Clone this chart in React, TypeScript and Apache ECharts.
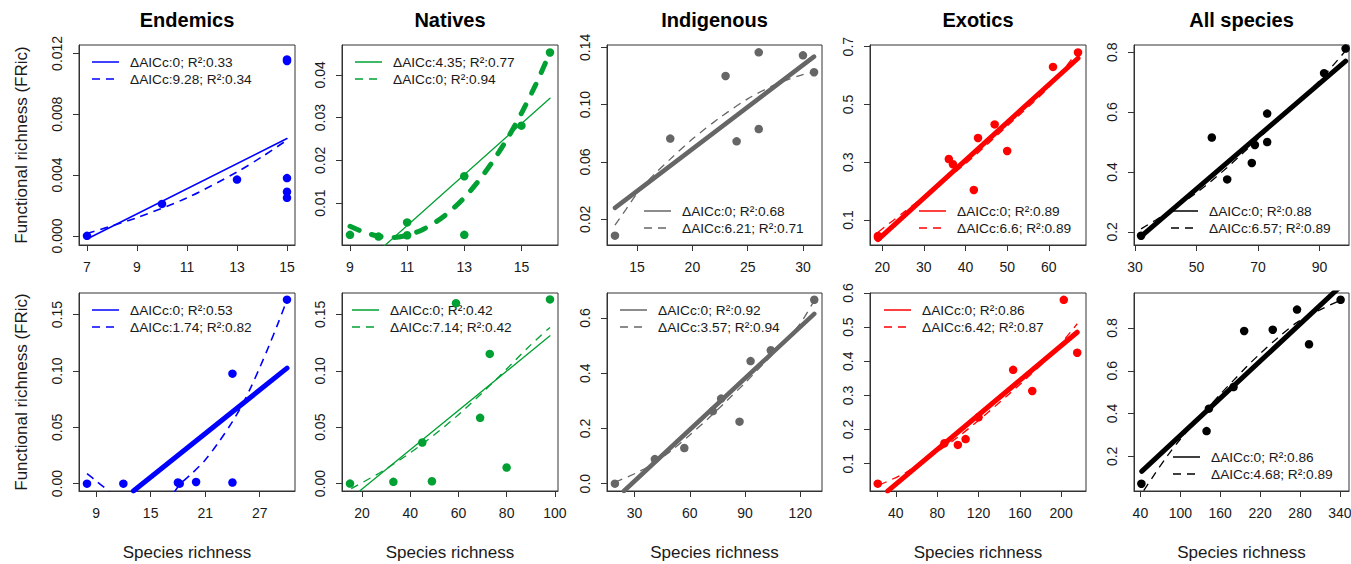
import React, { useEffect, useRef } from 'react';
import * as echarts from 'echarts';

const FONT = '"Liberation Sans", Arial, Helvetica, sans-serif';

// ---------- Titles / labels ----------
const panelTitles = ['Endemics', 'Natives', 'Indigenous', 'Exotics', 'All species'];
const yAxisTitle = 'Functional richness (FRic)';
const xAxisTitle = 'Species richness';

// ---------- Row 1 data ----------
const endemicsTopX = [7, 10, 13, 15, 15, 15, 15, 15];
const endemicsTopY = [0.0, 0.0021, 0.0037, 0.0116, 0.0115, 0.0038, 0.0029, 0.0025];
const endemicsTopSolid = [[7, -0.0002], [15, 0.0064]];
const endemicsTopDashed = [[[7, 0.00015], [9, 0.0012], [11, 0.0025], [13, 0.0042], [14, 0.0052], [15, 0.0063]]];

const nativesTopX = [9, 10, 11, 11, 13, 13, 15, 16];
const nativesTopY = [0.0026, 0.0022, 0.0055, 0.0025, 0.0163, 0.0026, 0.0281, 0.0452];
const nativesTopSolid = [[10.2, 0.0], [16, 0.0345]];
const nativesTopDashed = [[[9, 0.0046], [9.5, 0.0032], [10, 0.0023], [10.5, 0.002], [11, 0.0025], [11.5, 0.0037], [12, 0.0056], [12.5, 0.0081], [13, 0.0113], [13.5, 0.0152], [14, 0.0198], [14.5, 0.025], [15, 0.031], [15.5, 0.0377], [16, 0.0452]]];

const indigenousTopX = [13, 18, 23, 24, 26, 26, 30, 31];
const indigenousTopY = [0.0086, 0.0763, 0.12, 0.0744, 0.1365, 0.083, 0.1344, 0.1226];
const indigenousTopSolid = [[13, 0.028], [31, 0.1335]];
const indigenousTopDashed = [[[13, 0.016], [14, 0.027], [15, 0.038], [16.5, 0.051], [18, 0.062], [20, 0.076], [22.5, 0.091], [25, 0.104], [27.5, 0.114], [30, 0.121], [31, 0.1225]]];

const exoticsTopX = [19, 19, 36, 37, 42, 43, 47, 50, 61, 67];
const exoticsTopY = [0.045, 0.04, 0.311, 0.293, 0.204, 0.384, 0.431, 0.339, 0.63, 0.68];
const exoticsTopSolid = [[19, 0.032], [67, 0.66]];
const exoticsTopDashed = [[[19, 0.058], [25, 0.125], [30, 0.18], [40, 0.295], [50, 0.425], [60, 0.56], [67, 0.685]]];

const allTopX = [32, 55, 60, 68, 69, 73, 73, 91.5, 98.5];
const allTopY = [0.187, 0.515, 0.375, 0.43, 0.49, 0.595, 0.5, 0.73, 0.812];
const allTopSolid = [[32, 0.185], [98.5, 0.77]];
const allTopDashed = [[[32, 0.21], [40, 0.26], [50, 0.33], [60, 0.415], [70, 0.51], [80, 0.605], [90, 0.705], [98.5, 0.805]]];

// ---------- Row 2 data ----------
const endemicsBotX = [8, 12, 18, 18.2, 20, 24, 24, 30];
const endemicsBotY = [0.0, 0.0, 0.001, 0.0, 0.0015, 0.0976, 0.001, 0.1633];
const endemicsBotSolid = [[13.1, -0.0065], [30, 0.1025]];
const endemicsBotDashed = [
  [[8, 0.0089], [9, 0.0025], [10, -0.004], [10.5, -0.0075]],
  [[17.6, -0.0075], [18.3, 0.0], [19.4, 0.008], [21, 0.021], [22.5, 0.037], [24, 0.055], [25, 0.069], [26, 0.085], [27, 0.103], [28, 0.122], [29, 0.142], [30, 0.163]],
];

const nativesBotX = [15, 33, 45, 49, 59, 69, 73, 80, 98];
const nativesBotY = [0.0, 0.0015, 0.0364, 0.002, 0.16, 0.0583, 0.115, 0.0142, 0.1633];
const nativesBotSolid = [[19, -0.0066], [98, 0.131]];
const nativesBotDashed = [[[15.5, -0.0045], [30, 0.013], [45, 0.035], [60, 0.061], [75, 0.091], [90, 0.123], [98, 0.1385]]];

const indigenousBotX = [19.3, 41, 57, 72.5, 77, 87, 93, 104, 127.6];
const indigenousBotY = [0.0, 0.089, 0.129, 0.263, 0.308, 0.2245, 0.444, 0.483, 0.666];
const indigenousBotSolid = [[24.2, -0.0266], [127.6, 0.615]];
const indigenousBotDashed = [[[19.3, 0.005], [30, 0.036], [40, 0.072], [50, 0.12], [60, 0.176], [70, 0.236], [80, 0.3], [90, 0.365], [100, 0.434], [110, 0.503], [120, 0.58], [127.6, 0.664]]];

const exoticsBotX = [22.5, 87, 100, 107.5, 120, 153.5, 172, 202.5, 215.5];
const exoticsBotY = [0.0415, 0.16, 0.155, 0.172, 0.236, 0.375, 0.313, 0.58, 0.425];
const exoticsBotSolid = [[32, 0.0195], [215.5, 0.485]];
const exoticsBotDashed = [[[24, 0.038], [50, 0.075], [100, 0.178], [150, 0.305], [190, 0.418], [215.5, 0.51]]];

const allBotX = [41.5, 139.5, 143, 180, 196, 239, 275.5, 293.5, 341];
const allBotY = [0.072, 0.318, 0.423, 0.524, 0.786, 0.792, 0.886, 0.724, 0.932];
const allBotSolid = [[42, 0.13], [341, 0.995]];
const allBotDashed = [[[45, 0.04], [60, 0.11], [80, 0.2], [100, 0.28], [120, 0.35], [140, 0.42], [160, 0.49], [180, 0.555], [200, 0.62], [220, 0.68], [245, 0.75], [275, 0.825], [310, 0.885], [341, 0.93]]];

// ---------- Axes ----------
const xTicks = [
  [7, 9, 11, 13, 15], [9, 11, 13, 15], [15, 20, 25, 30], [20, 30, 40, 50, 60], [30, 50, 70, 90],
  [9, 15, 21, 27], [20, 40, 60, 80, 100], [30, 60, 90, 120], [40, 80, 120, 160, 200], [40, 100, 160, 220, 280, 340],
];
const yTicks = [
  [0, 0.004, 0.008, 0.012], [0.01, 0.02, 0.03, 0.04], [0.02, 0.06, 0.1, 0.14], [0.1, 0.3, 0.5, 0.7], [0.2, 0.4, 0.6, 0.8],
  [0, 0.05, 0.1, 0.15], [0, 0.05, 0.1, 0.15], [0, 0.2, 0.4, 0.6], [0.1, 0.2, 0.3, 0.4, 0.5, 0.6], [0.2, 0.4, 0.6, 0.8],
];
const yDecimals = [3, 2, 2, 1, 1, 2, 2, 1, 1, 1];
const xLimits = [
  [6.68, 15.32], [8.72, 16.28], [12.28, 31.72], [17.08, 68.92], [29.7, 99.6],
  [7.12, 30.88], [11.68, 101.32], [15, 131.8], [15, 224], [30.4, 353.6],
];
const yLimits = [
  [-0.0006, 0.01255], [0.00023, 0.04695], [0.0021, 0.1416], [0.0135, 0.7058], [0.156, 0.824],
  [-0.0065, 0.1692], [-0.0066, 0.169], [-0.0266, 0.6905], [0.02, 0.6], [0.038, 0.9636],
];

// ---------- Legends ----------
const legendSolid = [
  'ΔAICc:0; R²:0.33', 'ΔAICc:4.35; R²:0.77', 'ΔAICc:0; R²:0.68', 'ΔAICc:0; R²:0.89', 'ΔAICc:0; R²:0.88',
  'ΔAICc:0; R²:0.53', 'ΔAICc:0; R²:0.42', 'ΔAICc:0; R²:0.92', 'ΔAICc:0; R²:0.86', 'ΔAICc:0; R²:0.86',
];
const legendDashed = [
  'ΔAICc:9.28; R²:0.34', 'ΔAICc:0; R²:0.94', 'ΔAICc:6.21; R²:0.71', 'ΔAICc:6.6; R²:0.89', 'ΔAICc:6.57; R²:0.89',
  'ΔAICc:1.74; R²:0.82', 'ΔAICc:7.14; R²:0.42', 'ΔAICc:3.57; R²:0.94', 'ΔAICc:6.42; R²:0.87', 'ΔAICc:4.68; R²:0.89',
];

const pointsX = [endemicsTopX, nativesTopX, indigenousTopX, exoticsTopX, allTopX, endemicsBotX, nativesBotX, indigenousBotX, exoticsBotX, allBotX];
const pointsY = [endemicsTopY, nativesTopY, indigenousTopY, exoticsTopY, allTopY, endemicsBotY, nativesBotY, indigenousBotY, exoticsBotY, allBotY];
const solidFits = [endemicsTopSolid, nativesTopSolid, indigenousTopSolid, exoticsTopSolid, allTopSolid, endemicsBotSolid, nativesBotSolid, indigenousBotSolid, exoticsBotSolid, allBotSolid];
const dashedFits = [endemicsTopDashed, nativesTopDashed, indigenousTopDashed, exoticsTopDashed, allTopDashed, endemicsBotDashed, nativesBotDashed, indigenousBotDashed, exoticsBotDashed, allBotDashed];

// ---------- Layout & style (not data) ----------
const colors = ['#0000FF', '#00A032', '#666666', '#FF0000', '#000000'];
const colLefts = [79, 342, 607, 870, 1134];
const colWidths = [216, 216, 215, 216, 215];
const rowTops = [45, 293];
const rowHeights = [200, 198];
const solidWidths = [1.6, 1.3, 4.5, 5, 5, 5, 1.3, 4.5, 5, 5];
const dashedWidths = [1.6, 5, 1.3, 1.3, 1.3, 1.6, 1.3, 1.3, 1.3, 1.3];
const legendPlace = ['tl', 'tl', 'br', 'br', 'br', 'tl', 'tl', 'tl', 'tl', 'br'];
const legendTextX = [51, 51, 75, 87, 75, 51, 48, 51, 52, 77];

export default function App() {
  const ref = useRef<HTMLDivElement>(null);

  useEffect(() => {
    document.body.style.margin = '0';
    if (!ref.current) return;
    const chart = echarts.init(ref.current, null, { renderer: 'svg' });

    const grids: any[] = [];
    const xAxes: any[] = [];
    const yAxes: any[] = [];
    const series: any[] = [];
    const graphics: any[] = [];

    for (let i = 0; i < 10; i++) {
      const row = i < 5 ? 0 : 1;
      const col = i % 5;
      const left = colLefts[col];
      const width = colWidths[col];
      const top = rowTops[row];
      const height = rowHeights[row];
      const color = colors[col];

      grids.push({
        left, top, width, height,
        show: true, borderColor: '#333', borderWidth: 1,
        containLabel: false, outerBoundsMode: 'none',
      });
      xAxes.push({
        type: 'value', gridIndex: i, min: xLimits[i][0], max: xLimits[i][1],
        axisLine: { show: true, onZero: false, lineStyle: { color: '#333', width: 1 } },
        axisTick: { show: true, inside: false, length: 6, customValues: xTicks[i], lineStyle: { color: '#333' } },
        axisLabel: {
          customValues: xTicks[i], margin: 15, fontSize: 14, color: '#1a1a1a', fontFamily: FONT,
          formatter: (v: number) => String(Math.round(v)),
        },
        splitLine: { show: false },
      });
      const dec = yDecimals[i];
      yAxes.push({
        type: 'value', gridIndex: i, min: yLimits[i][0], max: yLimits[i][1],
        axisLine: { show: true, onZero: false, lineStyle: { color: '#333', width: 1 } },
        axisTick: { show: true, inside: false, length: 6, customValues: yTicks[i], lineStyle: { color: '#333' } },
        axisLabel: {
          customValues: yTicks[i], rotate: 90, margin: 15, fontSize: 14, color: '#1a1a1a', fontFamily: FONT,
          formatter: (v: number) => v.toFixed(dec),
        },
        splitLine: { show: false },
      });

      series.push({
        type: 'scatter', xAxisIndex: i, yAxisIndex: i,
        data: pointsX[i].map((x, k) => [x, pointsY[i][k]]),
        symbol: 'circle', symbolSize: 8.5,
        itemStyle: { color, opacity: 1 },
        z: 2, silent: true,
      });
      series.push({
        type: 'line', xAxisIndex: i, yAxisIndex: i,
        data: solidFits[i], symbol: 'none', showSymbol: false, clip: true,
        lineStyle: { color, width: solidWidths[i], type: 'solid', cap: 'round' },
        z: 3, silent: true,
      });
      dashedFits[i].forEach((piece) => {
        const thick = dashedWidths[i] > 3;
        series.push({
          type: 'line', xAxisIndex: i, yAxisIndex: i,
          data: piece, symbol: 'none', showSymbol: false, clip: true,
          smooth: piece.length > 2 ? 0.3 : false,
          lineStyle: {
            color, width: dashedWidths[i],
            type: thick ? [10, 13] : [8, 6],
            cap: thick ? 'round' : 'butt',
          },
          z: 3, silent: true,
        });
      });

      // Panel title (top row)
      if (row === 0) {
        graphics.push({
          type: 'text', x: left + width / 2, y: 20,
          style: {
            text: panelTitles[col], fontSize: 20, fontWeight: 'bold', fontFamily: FONT, fill: '#000',
            align: 'center', verticalAlign: 'middle', textAlign: 'center', textVerticalAlign: 'middle',
          },
        });
      }
      // Axis titles
      if (col === 0) {
        graphics.push({
          type: 'text', x: 21, y: top + height / 2, rotation: Math.PI / 2,
          style: {
            text: yAxisTitle, fontSize: 17, fontFamily: FONT, fill: '#1a1a1a',
            align: 'center', verticalAlign: 'middle', textAlign: 'center', textVerticalAlign: 'middle',
          },
        });
      }
      if (row === 1) {
        graphics.push({
          type: 'text', x: left + width / 2, y: 552,
          style: {
            text: xAxisTitle, fontSize: 17, fontFamily: FONT, fill: '#1a1a1a',
            align: 'center', verticalAlign: 'middle', textAlign: 'center', textVerticalAlign: 'middle',
          },
        });
      }

      // Legend
      const tx = left + legendTextX[i];
      const ys = legendPlace[i] === 'tl'
        ? [top + 17, top + 34]
        : [top + height - 34, top + height - 17];
      const labels = [legendSolid[i], legendDashed[i]];
      labels.forEach((lab, k) => {
        graphics.push({
          type: 'line',
          shape: { x1: tx - 38, y1: ys[k], x2: tx - 11, y2: ys[k] },
          style: { stroke: color, lineWidth: 1.5, lineDash: k === 0 ? null : [8, 6] },
          silent: true,
        });
        graphics.push({
          type: 'text', x: tx, y: ys[k],
          style: {
            text: lab, fontSize: 13.7, fontFamily: FONT, fill: '#1a1a1a',
            align: 'left', verticalAlign: 'middle', textAlign: 'left', textVerticalAlign: 'middle',
          },
          silent: true,
        });
      });
    }

    chart.setOption({
      animation: false,
      backgroundColor: '#ffffff',
      textStyle: { fontFamily: FONT },
      grid: grids,
      xAxis: xAxes,
      yAxis: yAxes,
      series,
      graphic: graphics,
    });

    return () => chart.dispose();
  }, []);

  return <div ref={ref} style={{ width: 1351, height: 564 }} />;
}
